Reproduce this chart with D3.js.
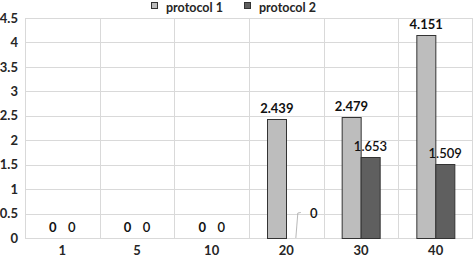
<!DOCTYPE html>
<html>
<head>
<meta charset="utf-8">
<script src="https://cdn.jsdelivr.net/npm/d3@7"></script>
<style>
  body { margin: 0; background: #fff; }
  svg text { font-family: Lato, "Open Sans", sans-serif; }
</style>
</head>
<body>
<div id="chart"></div>
<script>
// categories on the x axis
const categories = ['1', '5', '10', '20', '30', '40'];
const seriesNames = ['protocol 1', 'protocol 2'];
const protocol1 = [0, 0, 0, 2.439, 2.479, 4.151];
const protocol2 = [0, 0, 0, 0, 1.653, 1.509];
const yTicks = [0, 0.5, 1, 1.5, 2, 2.5, 3, 3.5, 4, 4.5];

const WIDTH = 473;
const HEIGHT = 257;
const PLOT = { LEFT: 25, RIGHT: 473, TOP: 18, BOTTOM: 238 };

const colors = ['#bdbdbd', '#5f5f5f'];

const data = categories.map((c, i) => ({ group: c, values: [protocol1[i], protocol2[i]] }));

const svg = d3
  .select('#chart')
  .append('svg')
  .attr('width', WIDTH)
  .attr('height', HEIGHT);

const xScale = d3.scaleBand().domain(categories).range([PLOT.LEFT, PLOT.RIGHT]).padding(0);
const yScale = d3.scaleLinear().domain([0, 4.5]).range([PLOT.BOTTOM, PLOT.TOP]);

// subgroup scale inside one category
const xSub = d3
  .scaleBand()
  .domain(seriesNames)
  .range([0, xScale.bandwidth()])
  .paddingInner(0)
  .paddingOuter(0.965);

// horizontal grid
svg
  .append('g')
  .selectAll('line')
  .data(yTicks)
  .enter()
  .append('line')
  .attr('x1', PLOT.LEFT)
  .attr('x2', PLOT.RIGHT)
  .attr('y1', (d) => Math.round(yScale(d)) + 0.5)
  .attr('y2', (d) => Math.round(yScale(d)) + 0.5)
  .attr('stroke', '#d9d9d9')
  .attr('stroke-width', 1);

// vertical grid (category boundaries)
const bounds = categories.map((c) => xScale(c)).concat([PLOT.RIGHT - 1]);
svg
  .append('g')
  .selectAll('line')
  .data(bounds)
  .enter()
  .append('line')
  .attr('x1', (d) => Math.round(d) + 0.5)
  .attr('x2', (d) => Math.round(d) + 0.5)
  .attr('y1', PLOT.TOP)
  .attr('y2', PLOT.BOTTOM)
  .attr('stroke', '#d9d9d9')
  .attr('stroke-width', 1);

// y axis labels
const yAxis = d3.axisLeft(yScale).tickValues(yTicks).tickSize(0).tickPadding(7).tickFormat((d) => String(d));
svg
  .append('g')
  .attr('transform', `translate(${PLOT.LEFT}, 0)`)
  .call(yAxis)
  .call((g) => g.select('.domain').remove())
  .selectAll('text')
  .attr('font-size', 13)
  .attr('font-weight', 'bold')
  .attr('fill', '#262626')
  .attr('font-family', 'Lato, sans-serif');

// x axis labels
const xAxis = d3.axisBottom(xScale).tickSize(0).tickPadding(8);
svg
  .append('g')
  .attr('transform', `translate(0, ${PLOT.BOTTOM})`)
  .call(xAxis)
  .call((g) => g.select('.domain').remove())
  .selectAll('text')
  .attr('font-size', 13)
  .attr('font-weight', 'bold')
  .attr('fill', '#262626')
  .attr('font-family', 'Lato, sans-serif');

// bars
const groups = svg
  .append('g')
  .selectAll('g')
  .data(data)
  .enter()
  .append('g')
  .attr('transform', (d) => `translate(${xScale(d.group)},0)`);

const cells = groups
  .selectAll('g')
  .data((d) => seriesNames.map((key, i) => ({ key: key, i: i, group: d.group, value: d.values[i] })))
  .enter()
  .append('g');

cells
  .filter((d) => d.value > 0)
  .append('rect')
  .attr('x', (d) => Math.round(xSub(d.key)) + 0.5)
  .attr('y', (d) => Math.round(yScale(d.value)) + 0.5)
  .attr('width', Math.round(xSub.bandwidth()))
  .attr('height', (d) => Math.round(yScale(0)) - Math.round(yScale(d.value)))
  .attr('fill', (d) => colors[d.i])
  .attr('stroke', '#333')
  .attr('stroke-width', 1);

// value labels (the zero of category 20 / protocol 2 is moved out with a leader line)
const isMoved = (d) => d.group === '20' && d.i === 1;

cells
  .append('text')
  .attr('x', (d) => (isMoved(d) ? xSub(d.key) + xSub.bandwidth() / 2 + 18 : xSub(d.key) + xSub.bandwidth() / 2))
  .attr('y', (d) => (isMoved(d) ? yScale(d.value) - 20 : yScale(d.value) - 6))
  .attr('text-anchor', 'middle')
  .attr('font-size', 13)
  .attr('font-weight', (d) => (d.i === 0 ? 'bold' : 600))
  .attr('fill', '#111')
  .text((d) => String(d.value));

cells
  .filter(isMoved)
  .append('polyline')
  .attr('points', (d) => {
    const cx = xSub(d.key) + xSub.bandwidth() / 2;
    const y0 = yScale(d.value);
    return `${cx},${y0} ${cx + 2},${y0 - 25} ${cx + 5},${y0 - 25.5}`;
  })
  .attr('fill', 'none')
  .attr('stroke', '#a6a6a6')
  .attr('stroke-width', 0.8);

// legend
const legend = svg
  .append('g')
  .selectAll('g')
  .data(seriesNames)
  .enter()
  .append('g')
  .attr('transform', (d, i) => `translate(${[151, 244][i]}, 0)`);

legend
  .append('rect')
  .attr('x', 0.5)
  .attr('y', 2.5)
  .attr('width', 6)
  .attr('height', 6)
  .attr('fill', (d, i) => colors[i])
  .attr('stroke', '#333')
  .attr('stroke-width', 1);

legend
  .append('text')
  .attr('x', 15)
  .attr('y', 11.5)
  .attr('font-size', 12.5)
  .attr('font-weight', 'bold')
  .attr('fill', '#262626')
  .text((d) => d);
</script>
</body>
</html>
